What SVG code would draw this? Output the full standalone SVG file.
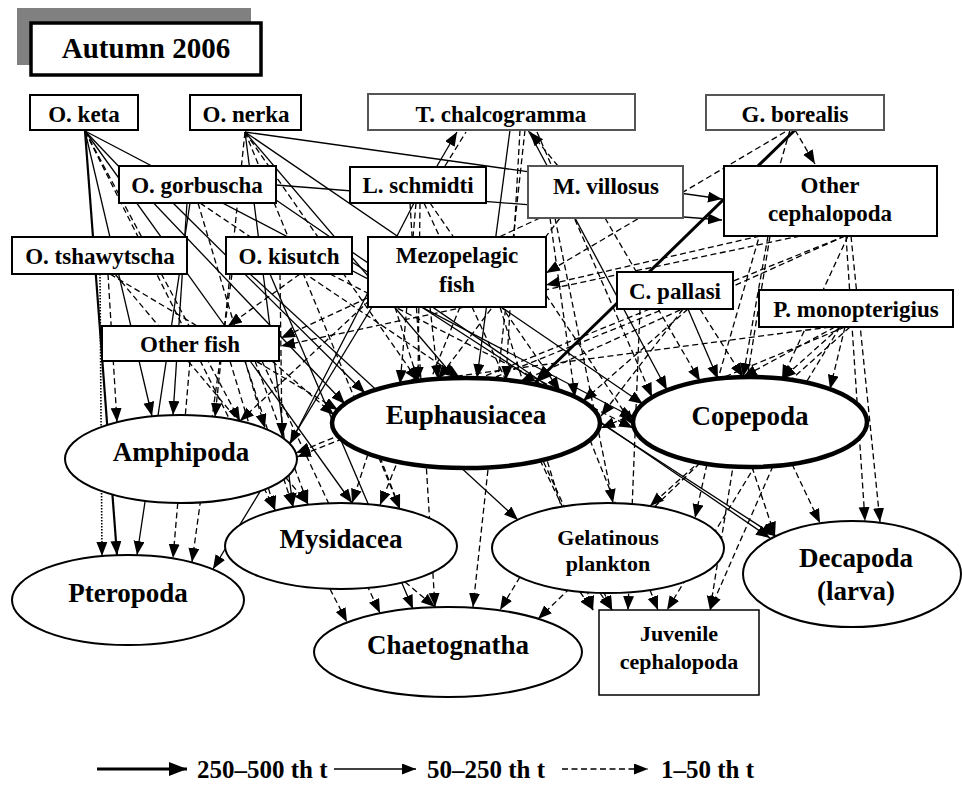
<svg xmlns="http://www.w3.org/2000/svg" width="962" height="786" viewBox="0 0 962 786">
<style>
.s{stroke:#000;stroke-width:1.3;fill:none;marker-end:url(#ah)}
.d{stroke:#000;stroke-width:1.3;stroke-dasharray:6 3.5;fill:none;marker-end:url(#ah)}
.dn{stroke:#000;stroke-width:1.3;stroke-dasharray:6 3.5;fill:none}
.o{stroke:#000;stroke-width:1.6;stroke-dasharray:1.5 1.5;fill:none;marker-end:url(#ah)}
.t{stroke:#000;stroke-width:3;fill:none;marker-end:url(#ahT)}
.t2{stroke:#000;stroke-width:2.2;fill:none;marker-end:url(#ah)}
.bx{fill:#fff;stroke:#000;stroke-width:2}
.bg{fill:#fff;stroke:#555;stroke-width:2}
.el{fill:#fff;stroke:#000;stroke-width:2}
.elt{fill:#fff;stroke:#000;stroke-width:4.5}
text{font-family:"Liberation Serif","Times New Roman",serif;font-weight:bold;text-anchor:middle;fill:#000}
.l{font-size:23px}
.e{font-size:27px}
.g{font-size:22px}
.lg{font-size:25px;text-anchor:start}
</style>
<defs>
<marker id="ah" markerUnits="userSpaceOnUse" markerWidth="16" markerHeight="12" refX="14" refY="5.5" orient="auto"><path d="M0,0 L14,5.5 L0,11 z" fill="#000"/></marker>
<marker id="ahT" markerUnits="userSpaceOnUse" markerWidth="20" markerHeight="15" refX="18" refY="7" orient="auto"><path d="M0,0 L18,7 L0,14 z" fill="#000"/></marker>
</defs>
<rect width="962" height="786" fill="#fff"/>
<g id="connectors">
<line class="t2" x1="85" y1="131" x2="117" y2="555"/>
<line class="s" x1="85" y1="131" x2="152" y2="416"/>
<line class="s" x1="85" y1="131" x2="352" y2="503"/>
<line class="s" x1="85" y1="131" x2="345" y2="404"/>
<line class="s" x1="85" y1="131" x2="634" y2="418"/>
<line class="d" x1="85" y1="131" x2="275" y2="510"/>
<line class="d" x1="85" y1="131" x2="240" y2="421"/>
<line class="s" x1="245" y1="132" x2="722" y2="199"/>
<line class="d" x1="245" y1="132" x2="215" y2="417"/>
<line class="s" x1="245" y1="132" x2="293" y2="507"/>
<line class="s" x1="245" y1="132" x2="455" y2="378"/>
<line class="s" x1="245" y1="132" x2="643" y2="404"/>
<line class="d" x1="245" y1="132" x2="400" y2="509"/>
<line class="d" x1="245" y1="132" x2="418" y2="381"/>
<line class="s" x1="190" y1="203" x2="137" y2="555"/>
<line class="s" x1="187" y1="203" x2="173" y2="415"/>
<line class="s" x1="276" y1="185" x2="722" y2="220"/>
<line class="s" x1="173" y1="203" x2="365" y2="393"/>
<line class="d" x1="198" y1="203" x2="265" y2="428"/>
<line class="d" x1="200" y1="203" x2="460" y2="378"/>
<line class="s" x1="276" y1="200" x2="770" y2="538"/>
<line class="o" x1="100" y1="274" x2="102" y2="556"/>
<line class="d" x1="108" y1="274" x2="117" y2="422"/>
<line class="d" x1="110" y1="274" x2="338" y2="410"/>
<line class="d" x1="115" y1="274" x2="308" y2="504"/>
<line class="d" x1="232" y1="274" x2="192" y2="562"/>
<line class="s" x1="250" y1="274" x2="518" y2="520"/>
<line class="s" x1="352" y1="262" x2="775" y2="536"/>
<line class="d" x1="300" y1="274" x2="228" y2="326"/>
<line class="d" x1="280" y1="274" x2="282" y2="437"/>
<line class="s" x1="270" y1="274" x2="413" y2="609"/>
<line class="d" x1="330" y1="274" x2="633" y2="428"/>
<line class="s" x1="510" y1="130" x2="477" y2="378"/>
<line class="s" x1="528" y1="130" x2="667" y2="390"/>
<line class="d" x1="525" y1="130" x2="473" y2="607"/>
<line class="d" x1="537" y1="132" x2="652" y2="397"/>
<line class="d" x1="520" y1="130" x2="506" y2="380"/>
<line class="s" x1="437" y1="166" x2="457" y2="132"/>
<line class="dn" x1="445" y1="166" x2="466" y2="132"/>
<line class="s" x1="414" y1="203" x2="290" y2="444"/>
<line class="d" x1="416" y1="203" x2="400" y2="384"/>
<line class="d" x1="420" y1="203" x2="418" y2="381"/>
<line class="d" x1="424" y1="203" x2="612" y2="610"/>
<line class="d" x1="430" y1="203" x2="560" y2="391"/>
<line class="d" x1="410" y1="203" x2="435" y2="607"/>
<line class="d" x1="555" y1="218" x2="613" y2="503"/>
<line class="d" x1="560" y1="218" x2="438" y2="379"/>
<line class="d" x1="550" y1="218" x2="575" y2="397"/>
<line class="d" x1="605" y1="218" x2="700" y2="381"/>
<line class="d" x1="558" y1="166" x2="530" y2="132"/>
<line class="d" x1="540" y1="218" x2="281" y2="338"/>
<line class="t" x1="795" y1="130" x2="535" y2="383"/>
<line class="d" x1="795" y1="130" x2="815" y2="164"/>
<line class="d" x1="785" y1="132" x2="546" y2="273"/>
<line class="dn" x1="790" y1="130" x2="718" y2="379"/>
<line class="d" x1="768" y1="236" x2="743" y2="377"/>
<line class="d" x1="848" y1="236" x2="782" y2="379"/>
<line class="d" x1="846" y1="236" x2="865" y2="521"/>
<line class="d" x1="851" y1="236" x2="880" y2="522"/>
<line class="d" x1="845" y1="236" x2="520" y2="382"/>
<line class="d" x1="845" y1="236" x2="297" y2="457"/>
<line class="d" x1="800" y1="236" x2="281" y2="346"/>
<line class="d" x1="770" y1="236" x2="710" y2="610"/>
<line class="d" x1="760" y1="236" x2="546" y2="285"/>
<line class="s" x1="372" y1="307" x2="213" y2="569"/>
<line class="d" x1="395" y1="307" x2="418" y2="381"/>
<line class="d" x1="430" y1="307" x2="438" y2="379"/>
<line class="d" x1="370" y1="300" x2="240" y2="421"/>
<line class="d" x1="546" y1="295" x2="633" y2="425"/>
<line class="d" x1="500" y1="307" x2="593" y2="610"/>
<line class="d" x1="460" y1="307" x2="380" y2="505"/>
<line class="s" x1="688" y1="309" x2="718" y2="379"/>
<line class="d" x1="688" y1="309" x2="583" y2="401"/>
<line class="d" x1="683" y1="309" x2="601" y2="416"/>
<line class="d" x1="650" y1="309" x2="296" y2="453"/>
<line class="d" x1="700" y1="309" x2="743" y2="377"/>
<line class="d" x1="640" y1="309" x2="628" y2="610"/>
<line class="d" x1="845" y1="327" x2="830" y2="389"/>
<line class="d" x1="840" y1="327" x2="782" y2="379"/>
<line class="d" x1="835" y1="327" x2="743" y2="377"/>
<line class="d" x1="830" y1="327" x2="405" y2="383"/>
<line class="d" x1="840" y1="327" x2="667" y2="610"/>
<line class="d" x1="845" y1="327" x2="601" y2="428"/>
<line class="d" x1="850" y1="327" x2="650" y2="506"/>
<line class="d" x1="190" y1="361" x2="173" y2="558"/>
<line class="d" x1="230" y1="361" x2="275" y2="510"/>
<line class="d" x1="245" y1="361" x2="293" y2="507"/>
<line class="d" x1="255" y1="361" x2="308" y2="504"/>
<line class="d" x1="262" y1="361" x2="380" y2="613"/>
<line class="d" x1="272" y1="361" x2="334" y2="415"/>
<line class="d" x1="368" y1="454" x2="352" y2="503"/>
<line class="d" x1="540" y1="460" x2="612" y2="610"/>
<line class="d" x1="590" y1="440" x2="658" y2="610"/>
<line class="d" x1="380" y1="457" x2="400" y2="509"/>
<line class="d" x1="792" y1="464" x2="820" y2="523"/>
<line class="d" x1="773" y1="466" x2="710" y2="610"/>
<line class="d" x1="700" y1="463" x2="538" y2="619"/>
<line class="d" x1="752" y1="467" x2="775" y2="536"/>
<line class="d" x1="707" y1="464" x2="695" y2="518"/>
<line class="d" x1="330" y1="589" x2="347" y2="622"/>
<line class="d" x1="405" y1="582" x2="435" y2="607"/>
<line class="d" x1="520" y1="577" x2="500" y2="610"/>
<line class="d" x1="580" y1="592" x2="593" y2="610"/>
<line class="d" x1="600" y1="593" x2="612" y2="610"/>
</g>
<g id="title"><rect x="17" y="8" width="234" height="57" fill="#808080"/><rect x="31" y="23" width="230" height="52" fill="#fff" stroke="#000" stroke-width="3.5"/><text x="146" y="58" font-size="29">Autumn 2006</text></g>
<g id="o-keta"><rect class="bx" x="30" y="95" width="108" height="35"/><text class="l" x="84" y="122">O. keta</text></g>
<g id="o-nerka"><rect class="bx" x="190" y="95" width="111" height="35"/><text class="l" x="246" y="122">O. nerka</text></g>
<g id="t-chalcogramma"><rect class="bg" x="368" y="94" width="267" height="36"/><text class="l" x="501" y="122">T. chalcogramma</text></g>
<g id="g-borealis"><rect class="bg" x="706" y="95" width="178" height="35"/><text class="l" x="795" y="122">G. borealis</text></g>
<g id="o-gorbuscha"><rect class="bx" x="119" y="166" width="157" height="37"/><text class="l" x="197" y="193">O. gorbuscha</text></g>
<g id="l-schmidti"><rect class="bx" x="350" y="167" width="136" height="36"/><text class="l" x="418" y="193">L. schmidti</text></g>
<g id="m-villosus"><rect class="bg" x="528" y="166" width="155" height="52"/><text class="l" x="606" y="194">M. villosus</text></g>
<g id="other-cephalopoda"><rect class="bx" x="724" y="166" width="213" height="70"/><text class="l" x="830" y="193">Other</text><text class="l" x="830" y="221">cephalopoda</text></g>
<g id="o-tshawytscha"><rect class="bx" x="12" y="237" width="175" height="37"/><text class="l" x="100" y="264">O. tshawytscha</text></g>
<g id="o-kisutch"><rect class="bx" x="226" y="237" width="126" height="37"/><text class="l" x="289" y="264">O. kisutch</text></g>
<g id="mezopelagic-fish"><rect class="bx" x="368" y="237" width="178" height="70"/><text class="l" x="457" y="263">Mezopelagic</text><text class="l" x="457" y="292">fish</text></g>
<g id="c-pallasi"><rect class="bx" x="617" y="272" width="116" height="37"/><text class="l" x="675" y="299">C. pallasi</text></g>
<g id="p-monopterigius"><rect class="bx" x="759" y="290" width="194" height="37"/><text class="l" x="856" y="317">P. monopterigius</text></g>
<g id="other-fish"><rect class="bx" x="102" y="326" width="177" height="35"/><text class="l" x="190" y="352">Other fish</text></g>
<g id="juvenile-cephalopoda"><rect x="599" y="610" width="160" height="85" fill="#fff" stroke="#000" stroke-width="1.5"/><text class="g" x="679" y="641">Juvenile</text><text class="g" x="679" y="669">cephalopoda</text></g>
<g id="amphipoda"><ellipse class="el" cx="181" cy="459" rx="116" ry="44"/><text class="e" x="181" y="461">Amphipoda</text></g>
<g id="pteropoda"><ellipse class="el" cx="128" cy="600" rx="116" ry="45"/><text class="e" x="128" y="602">Pteropoda</text></g>
<g id="mysidacea"><ellipse class="el" cx="341" cy="546" rx="116" ry="43"/><text class="e" x="341" y="548">Mysidacea</text></g>
<g id="euphausiacea"><ellipse class="elt" cx="466" cy="423" rx="134" ry="45"/><text class="e" x="466" y="424">Euphausiacea</text></g>
<g id="copepoda"><ellipse class="elt" cx="750" cy="422" rx="117" ry="45"/><text class="e" x="750" y="425">Copepoda</text></g>
<g id="gelatinous-plankton"><ellipse class="el" cx="608" cy="548" rx="116" ry="45"/><text class="g" x="608" y="545">Gelatinous</text><text class="g" x="608" y="571">plankton</text></g>
<g id="decapoda"><ellipse class="el" cx="852" cy="574" rx="109" ry="53"/><text class="e" x="856" y="567">Decapoda</text><text class="e" x="856" y="600">(larva)</text></g>
<g id="chaetognatha"><ellipse class="el" cx="448" cy="652" rx="134" ry="45"/><text class="e" x="448" y="654">Chaetognatha</text></g>
<g id="legend">
<line class="t" x1="97" y1="769" x2="187" y2="769"/>
<text class="lg" x="197" y="778">250–500 th t</text>
<line class="s" x1="334" y1="769" x2="416" y2="769"/>
<text class="lg" x="427" y="778">50–250 th t</text>
<line class="d" x1="562" y1="769" x2="648" y2="769"/>
<text class="lg" x="661" y="778">1–50 th t</text>
</g>
</svg>
